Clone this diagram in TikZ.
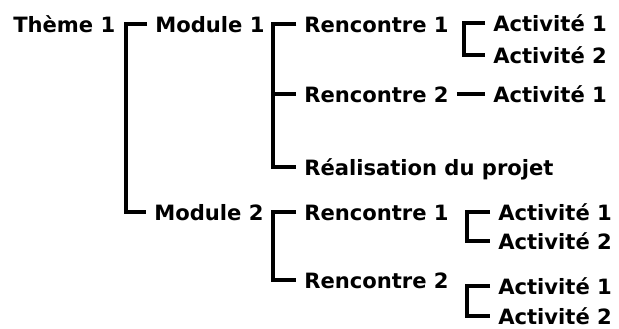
\documentclass[tikz,border=0pt]{standalone}
\usepackage{fontspec}
\setmainfont{DejaVu Sans}
\usepackage{xcolor}

\begin{document}
\begin{tikzpicture}[x=0.025cm, y=-0.025cm,
    every node/.style={anchor=west, inner xsep=0.2cm, inner ysep=0pt, text height=0.4cm, text depth=0pt, font=\fontsize{15}{18}\selectfont\bfseries},
    br/.style={line width=0.1cm, line join=miter}]
    \useasboundingbox (0,0) rectangle (619,329);
    \node (theme) at (5,24) {Thème 1};
    \node (mod1) at (147,24) {Module 1};
    \node (mod2) at (146,212) {Module 2};
    \node (renc11) at (296,24) {Rencontre 1};
    \node (renc12) at (296,94) {Rencontre 2};
    \node (projet) at (296,167) {Réalisation du projet};
    \node (act111) at (485,23) {Activité 1};
    \node (act112) at (485,55) {Activité 2};
    \node (act121) at (485,94) {Activité 1};
    \node (renc21) at (296,212) {Rencontre 1};
    \node (renc22) at (296,280) {Rencontre 2};
    \node (act211) at (490,212) {Activité 1};
    \node (act212) at (490,241) {Activité 2};
    \node (act221) at (490,286) {Activité 1};
    \node (act222) at (490,316) {Activité 2};
    \draw [br] (mod1.west) -- ++(-21,0) |- (mod2.west);
    \draw [br] (renc11.west) -- ++(-23,0) |- (renc12.west);
    \draw [br] (renc11.west) -- ++(-23,0) |- (projet.west);
    \draw [br] (act111.west) -- ++(-21,0) |- (act112.west);
    \draw [br] (renc12.east) -- (act121.west);
    \draw [br] (renc21.west) -- ++(-23,0) |- (renc22.west);
    \draw [br] (act211.west) -- ++(-23,0) |- (act212.west);
    \draw [br] (act221.west) -- ++(-23,0) |- (act222.west);
\end{tikzpicture}
\end{document}
